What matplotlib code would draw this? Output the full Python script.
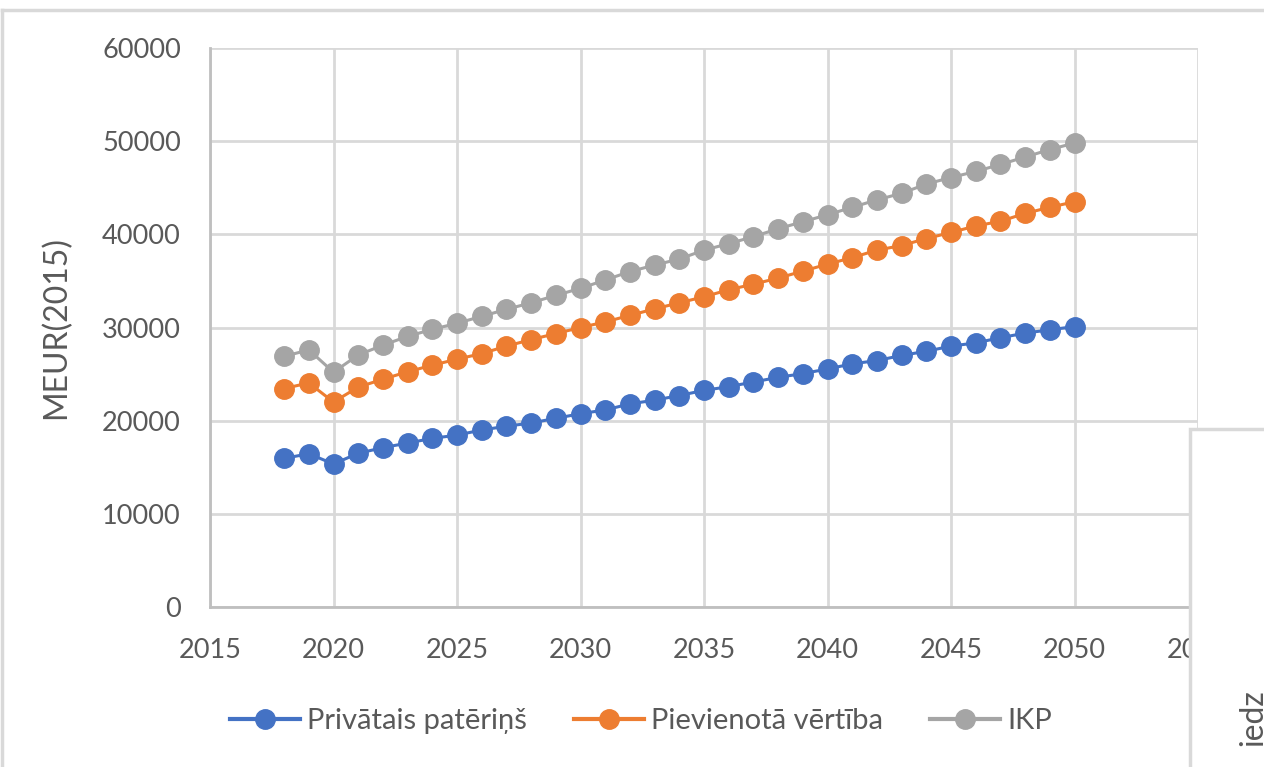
import matplotlib.pyplot as plt
from matplotlib.patches import Rectangle
from matplotlib.lines import Line2D

plt.rcParams['font.family'] = ['Lato', 'DejaVu Sans']

years = list(range(2018, 2051))

# MEUR (2015 prices)
privatais = [15950, 16450, 15350, 16500, 17100, 17600, 18100, 18450, 19000, 19400,
             19750, 20250, 20750, 21150, 21800, 22200, 22700, 23250, 23650, 24150,
             24650, 25050, 25550, 26100, 26450, 27000, 27450, 28000, 28350, 28900,
             29400, 29750, 30100]
pievienota = [23450, 24050, 22000, 23600, 24450, 25250, 25950, 26600, 27200, 28000,
              28700, 29350, 30000, 30600, 31300, 32000, 32650, 33300, 34050, 34650,
              35300, 36050, 36800, 37500, 38300, 38800, 39550, 40200, 40900, 41400,
              42250, 42900, 43500]
ikp = [26900, 27600, 25200, 27050, 28100, 29050, 29800, 30450, 31200, 31950,
       32650, 33450, 34200, 35100, 36000, 36700, 37350, 38300, 39000, 39750,
       40600, 41350, 42100, 42900, 43700, 44400, 45400, 46100, 46750, 47500,
       48300, 49100, 49800]

series_names = ['Privātais patēriņš', 'Pievienotā vērtība', 'IKP']
colors = ['#4472C4', '#ED7D31', '#A5A5A5']
x_ticks = [2015, 2020, 2025, 2030, 2035, 2040, 2045, 2050, 2055]
y_ticks = [0, 10000, 20000, 30000, 40000, 50000, 60000]

W, H = 1264, 767
fig = plt.figure(figsize=(W / 100, H / 100), dpi=100)
ax = fig.add_axes([210 / W, 1 - 607 / H, (1198 - 210) / W, (607 - 48) / H])

grid_col = '#D9D9D9'
text_col = '#595959'

for vals, name, col in zip([privatais, pievienota, ikp], series_names, colors):
    ax.plot(years, vals, color=col, lw=2.2, marker='o', markersize=14,
            label=name, zorder=3, clip_on=False)

ax.set_xlim(2015, 2055)
ax.set_ylim(0, 60000)
ax.set_xticks(x_ticks)
ax.set_yticks(y_ticks)
ax.grid(True, color=grid_col, lw=2)
ax.set_axisbelow(True)
for s in ['top', 'right']:
    ax.spines[s].set_visible(False)
for s in ['left', 'bottom']:
    ax.spines[s].set_color('#BFBFBF')
    ax.spines[s].set_linewidth(2)
ax.tick_params(length=0, labelsize=19.5, labelcolor=text_col)
ax.tick_params(axis='y', pad=21)
ax.tick_params(axis='x', pad=22)
ax.set_ylabel('MEUR(2015)', fontsize=23, color=text_col)
ax.yaxis.set_label_coords((71 - 210) / (1198 - 210), 0.5)

handles = [Line2D([], [], color=c, lw=3, marker='o', markersize=14) for c in colors]
fig.legend(handles, series_names, loc='center', bbox_to_anchor=(641 / W, 1 - 721 / H),
           ncol=3, frameon=False, fontsize=21, labelcolor=text_col,
           handlelength=2.4, handletextpad=0.25, columnspacing=1.6)

# outer chart frame (extends past the right and bottom edges)
fig.add_artist(Line2D([2 / W, 2 / W], [0, 1 - 10 / H], color=grid_col, lw=2.5))
fig.add_artist(Line2D([2 / W, 1], [1 - 10 / H, 1 - 10 / H], color=grid_col, lw=2.5))

# neighbouring chart overlapping in the corner
fig.add_artist(Rectangle((1190 / W, -0.01), 0.2, 1 - 429 / H + 0.01,
                         transform=fig.transFigure, facecolor='white',
                         edgecolor=grid_col, lw=2.5, zorder=10))
fig.text(1238 / W, 1 - 718 / H, 'iedz', rotation=90, ha='left', va='center',
         fontsize=23, color=text_col, zorder=11)

fig.savefig('out.png', dpi=100)
